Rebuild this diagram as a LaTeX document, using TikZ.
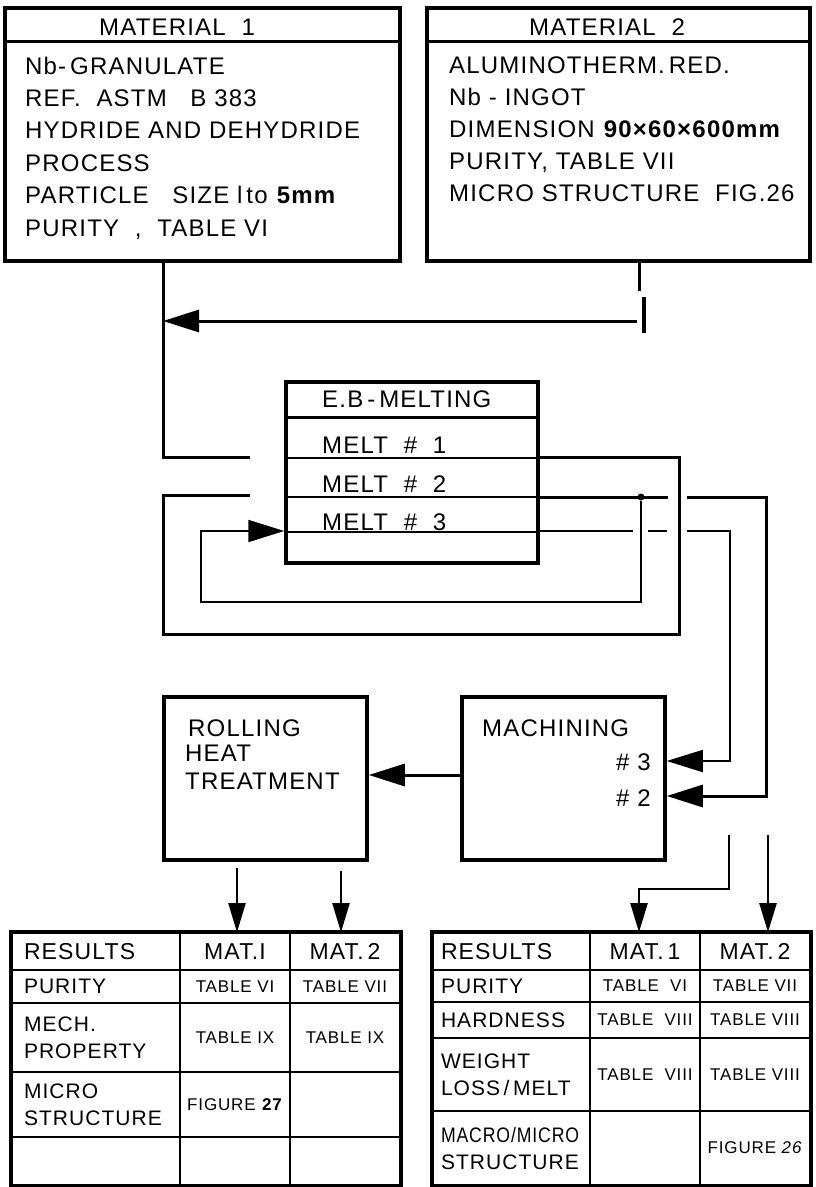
\documentclass[tikz,border=0pt]{standalone}
\usepackage{fontspec}
\usepackage{graphicx}
\setmainfont{Liberation Sans}[LetterSpace=5]
\usetikzlibrary{arrows.meta, positioning}
\tikzset{
  every picture/.style={line cap=butt},
  box/.style={draw, line width=3.5pt, inner sep=0pt},
  txt/.style={font=\fontsize{24}{28}\selectfont, inner sep=0pt},
  ln/.style={line width=3pt},
  lnthin/.style={line width=1.8pt},
  big/.style={-{Triangle[length=36pt, width=22pt]}},
  dn/.style={-{Triangle[length=29pt, width=17pt]}, line width=2.2pt},
}

\begin{document}
\begin{tikzpicture}[x=1pt, y=-1pt,
  cell/.style={draw, line width=1.6pt, inner sep=2pt, minimum width=110pt, font=\fontsize{17}{19}\selectfont},
  hd/.style={cell, font=\fontsize{23}{26}\selectfont},
  lab/.style={cell, minimum width=0pt, text width=#1, align=left, font=\fontsize{21}{27}\selectfont},
  frame/.style={draw, line width=4pt}]
  \fill[white] (0,0) rectangle (815,1187);
  \useasboundingbox (0,0) rectangle (815,1187);
  % starting materials
  \node[box, minimum width=395pt, minimum height=253pt] (mat1) at (202.5,134.5) {};
  \node[box, minimum width=383pt, minimum height=253pt] (mat2) at (618.5,134.5) {};
  \draw[ln] (mat1.west |- 0,41) -- (mat1.east |- 0,41);
  \draw[ln] (mat2.west |- 0,41) -- (mat2.east |- 0,41);
  \node[txt, anchor=base] (mt1) at (177,35) {MATERIAL\ \ 1};
  \node[txt, anchor=base] (mt2) at (607,35) {MATERIAL\ \ 2};
  \foreach \t [count=\i] in {Nb-\,GRANULATE, REF.\ \ ASTM\ \ \ B 383, HYDRIDE AND DEHYDRIDE, PROCESS, PARTICLE\ \ \ SIZE l\,to \textbf{5mm}, {PURITY\ \ ,\ \ TABLE VI}}
    \node[txt, anchor=base west] (ma\i) at (25,41.6+32.4*\i) {\t};
  \foreach \t [count=\i] in {ALUMINOTHERM.\,RED., Nb\ -\ INGOT, DIMENSION \textbf{90×60×600mm}, {PURITY, TABLE VII}, MICRO STRUCTURE\ \ FIG.26}
    \node[txt, anchor=base west] (mb\i) at (449,41+32*\i) {\t};

  % melting
  \node[box, minimum width=252pt, minimum height=181pt] (eb) at (412,472.5) {};
  \draw[ln] (eb.west |- 0,417) -- (eb.east |- 0,417);
  \foreach \yy in {458,497,532} \draw[lnthin] (eb.west |- 0,\yy) -- (eb.east |- 0,\yy);
  \node[txt, anchor=base west] (ebt) at (322,407) {E.B\,-\,MELTING};
  \foreach \i/\yy in {1/453, 2/492, 3/530}
    \node[txt, anchor=base west] (melt\i) at (322,\yy) {MELT\ \ \#\ \ \i};

  % rolling / machining
  \node[box, minimum width=203pt, minimum height=163pt] (roll) at (265.5,778.5) {};
  \node[box, minimum width=203pt, minimum height=163pt] (mach) at (563.5,778.5) {};
  \node[txt, anchor=base west] (rl1) at (188,736) {ROLLING};
  \node[txt, anchor=base west] (rl2) at (185,761) {HEAT};
  \node[txt, anchor=base west] (rl3) at (185,789) {TREATMENT};
  \node[txt, anchor=base west] (mc1) at (482,736) {MACHINING};
  \node[txt, anchor=base east] (mc3) at (651,770) {\#\ 3};
  \node[txt, anchor=base east] (mc2) at (651,806) {\#\ 2};

  % flow lines
  \coordinate (in1) at (250,457);
  \coordinate (in2) at (250,495);
  \draw[ln] (mat1.south -| 163,0) |- (in1);
  \draw[ln] (mat2.south -| 639,0) -- (639,291);
  \draw[line width=4.5pt] (644,297) -- (644,333);
  \draw[ln, big] (637,321) -- (163,321);
  \draw[ln] (eb.east |- 0,457) -| (679,634) -| (163,495) -- (in2);
  \node[circle, fill, inner sep=0pt, minimum size=7pt] (dot) at (641,497) {};
  \draw[ln] (eb.east |- 0,497) -- (668,497);
  \draw[lnthin, big] (dot) |- (201,602) |- (eb.west |- 0,531);
  \draw[ln, big] (687,497) -| (766,796) -- (mach.east |- 0,796);
  \draw[lnthin] (eb.east |- 0,531) -- (633,531);
  \draw[lnthin] (648,531) -- (667,531);
  \draw[lnthin, big] (687,531) -| (730,761) -- (mach.east |- 0,761);
  \draw[ln, big] (mach.west |- 0,775) -- (roll.east |- 0,775);

  % results
  \node[lab=144pt, inner xsep=12pt, minimum height=37pt, font=\fontsize{23}{26}\selectfont] (L11) at (96,951.5) {RESULTS};
  \node[hd, minimum height=37pt] (L12) at (235,951.5) {MAT.I};
  \node[hd, minimum height=37pt] (L13) at (345,951.5) {MAT.\,2};
  \foreach \yy/\h/\a/\b/\c [count=\r from 2] in {986.5/33/PURITY/TABLE VI/TABLE VII, 1037.5/69/{MECH.\\PROPERTY}/TABLE IX/TABLE IX, 1104.5/65/{MICRO\\STRUCTURE}/{FIGURE \textbf{27}}/{}, 1161/48/{}/{}/{}} {
    \node[lab=144pt, inner xsep=12pt, minimum height=\h pt] (L\r1) at (96,\yy) {\a};
    \node[cell, minimum height=\h pt] (L\r2) at (235,\yy) {\b};
    \node[cell, minimum height=\h pt] (L\r3) at (345,\yy) {\c};
  }
  \draw[frame] (L11.north west) rectangle (L53.south east);

  \node[lab=141pt, inner xsep=8pt, minimum height=37pt, font=\fontsize{23}{26}\selectfont] (R11) at (511.5,951.5) {RESULTS};
  \node[hd, minimum height=37pt] (R12) at (645,951.5) {MAT.\,1};
  \node[hd, minimum height=37pt] (R13) at (755,951.5) {MAT.\,2};
  \foreach \yy/\h/\a/\b/\c [count=\r from 2] in {986/32/PURITY/TABLE\ \ VI/TABLE VII, 1020/36/HARDNESS/TABLE\ \ VIII/TABLE VIII, 1074.5/73/{WEIGHT\\LOSS\,/\,MELT}/TABLE\ \ VIII/TABLE VIII, 1148/74/{\scalebox{0.84}[1]{MACRO/MICRO}\\STRUCTURE}/{}/{FIGURE \textit{26}}} {
    \node[lab=141pt, inner xsep=8pt, minimum height=\h pt] (R\r1) at (511.5,\yy) {\a};
    \node[cell, minimum height=\h pt] (R\r2) at (645,\yy) {\b};
    \node[cell, minimum height=\h pt] (R\r3) at (755,\yy) {\c};
  }
  \draw[frame] (R11.north west) rectangle (R53.south east);

  \coordinate (a1) at (237,868);
  \coordinate (a2) at (341,871);
  \coordinate (b1) at (729,835);
  \coordinate (b2) at (768,835);
  \draw[dn] (a1) -- (a1 |- L12.north);
  \draw[dn] (a2) -- (a2 |- L13.north);
  \draw[dn] (b1) |- (639,889) -- (639,889 |- R12.north);
  \draw[dn] (b2) -- (b2 |- R13.north);
\end{tikzpicture}
\end{document}
